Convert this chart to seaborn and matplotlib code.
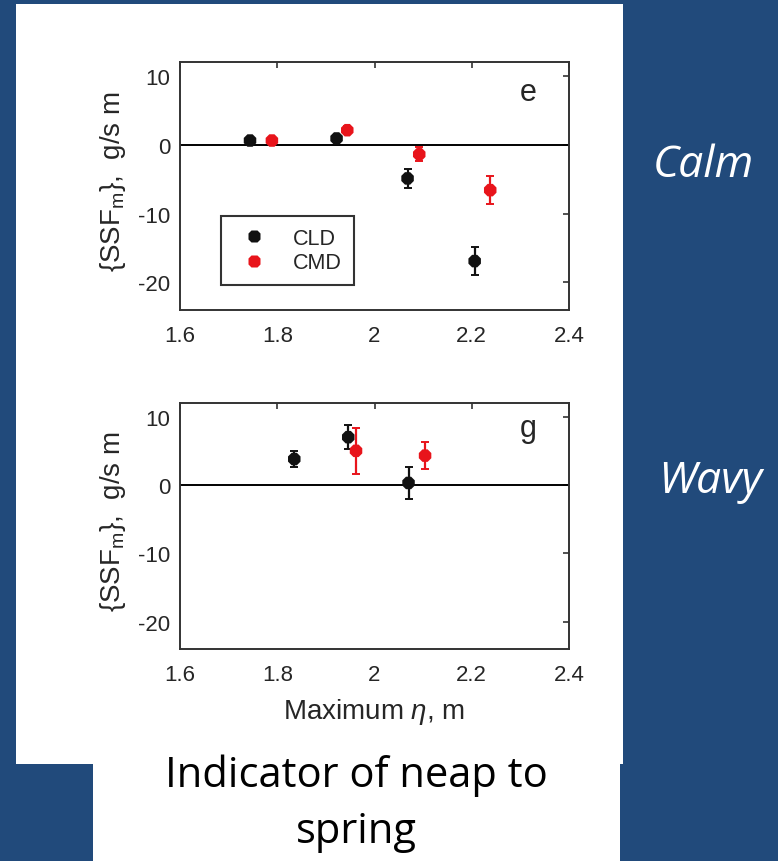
import numpy as np
import pandas as pd
import matplotlib
matplotlib.use('Agg')
import matplotlib.pyplot as plt
from matplotlib.patches import Rectangle
import seaborn as sns

# data
calm_cld_x = [1.744, 1.922, 2.068, 2.206]
calm_cld_y = [0.6, 0.9, -4.9, -16.9]
calm_cld_err = [0.5, 0.5, 1.4, 2.0]
calm_cmd_x = [1.789, 1.944, 2.092, 2.238]
calm_cmd_y = [0.6, 2.1, -1.4, -6.6]
calm_cmd_err = [0.5, 0.6, 1.0, 2.0]

wavy_cld_x = [1.835, 1.946, 2.070]
wavy_cld_y = [3.8, 7.0, 0.3]
wavy_cld_err = [1.2, 1.8, 2.3]
wavy_cmd_x = [1.962, 2.104]
wavy_cmd_y = [5.0, 4.3]
wavy_cmd_err = [3.4, 2.0]

xticks = [1.6, 1.8, 2.0, 2.2, 2.4]
xticklabels = ['1.6', '1.8', '2', '2.2', '2.4']
yticks = [-20, -10, 0, 10]


def frame(cld_x, cld_y, cld_err, cmd_x, cmd_y, cmd_err):
    return pd.DataFrame({
        'x': cld_x + cmd_x,
        'y': cld_y + cmd_y,
        'err': cld_err + cmd_err,
        'cruise': ['CLD'] * len(cld_x) + ['CMD'] * len(cmd_x),
    })


df_calm = frame(calm_cld_x, calm_cld_y, calm_cld_err, calm_cmd_x, calm_cmd_y, calm_cmd_err)
df_wavy = frame(wavy_cld_x, wavy_cld_y, wavy_cld_err, wavy_cmd_x, wavy_cmd_y, wavy_cmd_err)

PALETTE = {'CLD': '#111111', 'CMD': '#E8141B'}
TXT = '#262626'
BG = '#214A7B'
W, H = 778, 862

sns.set_style('white')
plt.rcParams['font.family'] = ['Liberation Sans', 'DejaVu Sans']
plt.rcParams['mathtext.fontset'] = 'custom'
plt.rcParams['mathtext.rm'] = 'Liberation Sans'
plt.rcParams['mathtext.it'] = 'Liberation Sans:italic'
plt.rcParams['axes.unicode_minus'] = False
plt.rcParams['axes.edgecolor'] = '#333333'
plt.rcParams['axes.linewidth'] = 1.4

fig = plt.figure(figsize=(W / 100, H / 100), dpi=100, facecolor=BG)

# white panels behind the plots and the caption
fig.patches.append(Rectangle((16 / W, 1 - 765 / H), 607 / W, 760 / H,
                             transform=fig.transFigure, facecolor='white', edgecolor='none', zorder=-5))
fig.patches.append(Rectangle((93 / W, 0), 527 / W, 98 / H,
                             transform=fig.transFigure, facecolor='white', edgecolor='none', zorder=-5))


def axes_px(x0, y0, x1, y1):
    ax = fig.add_axes([x0 / W, 1 - y1 / H, (x1 - x0) / W, (y1 - y0) / H])
    ax.set_zorder(5)
    return ax


def draw(ax, df, tag, tag_y, legend):
    ax.axhline(0, color='black', lw=1.4, zorder=1)
    for name, sub in df.groupby('cruise'):
        ax.errorbar(sub.x, sub.y, yerr=sub.err, fmt='none', ecolor=PALETTE[name],
                    elinewidth=1.6, capsize=3, capthick=1.4, zorder=2)
    sns.scatterplot(df, x='x', y='y', hue='cruise', palette=PALETTE, marker='8',
                    s=95, edgecolor='none', legend=legend, ax=ax, zorder=3)
    ax.set_xlim(1.6, 2.4)
    ax.set_ylim(-24, 12)
    ax.set_xticks(xticks, xticklabels)
    ax.set_yticks(yticks)
    ax.tick_params(direction='in', length=4, width=1.2, top=True, right=True,
                   labelsize=16, labelcolor=TXT, color='#333333')
    ax.tick_params(axis='x', pad=11)
    ax.tick_params(axis='y', pad=7)
    ax.set_xlabel('')
    ax.set_ylabel(r'{SSF$_\mathrm{m}$},  g/s m', fontsize=20, color=TXT)
    ax.yaxis.set_label_coords(-0.134, 0.52)
    ax.text(0.895, tag_y, tag, transform=ax.transAxes, fontsize=22, ha='center', va='center', color=TXT)
    for s in ax.spines.values():
        s.set_visible(True)


ax1 = axes_px(180, 63, 569, 311)
draw(ax1, df_calm, 'e', 0.88, True)
leg = ax1.legend(loc='upper left', bbox_to_anchor=(0.105, 0.379), borderaxespad=0, fontsize=15.5,
                 frameon=True, fancybox=False, edgecolor='black', borderpad=0.55,
                 handlelength=2.0, handletextpad=0.8, labelspacing=0.15, markerscale=1.0, title=None)
leg.get_frame().set_linewidth(1.5)
for t in leg.get_texts():
    t.set_color(TXT)

ax2 = axes_px(180, 404, 569, 650)
draw(ax2, df_wavy, 'g', 0.90, False)
ax2.set_xlabel(r'Maximum $\eta$, m', fontsize=20, color=TXT, labelpad=8)

# annotations outside the plots
fig.text(703 / W, 1 - 177 / H, 'Calm', fontsize=32, style='italic', color='white',
         family='Open Sans', ha='center', va='baseline')
fig.text(710 / W, 1 - 493 / H, 'Wavy', fontsize=32, style='italic', color='white',
         family='Open Sans', ha='center', va='baseline')
fig.text(356 / W, 1 - 787 / H, 'Indicator of neap to', fontsize=30, color='black',
         family='Open Sans', ha='center', va='baseline')
fig.text(356 / W, 1 - 843 / H, 'spring', fontsize=30, color='black',
         family='Open Sans', ha='center', va='baseline')

fig.savefig('out.png', dpi=100, facecolor=BG)
